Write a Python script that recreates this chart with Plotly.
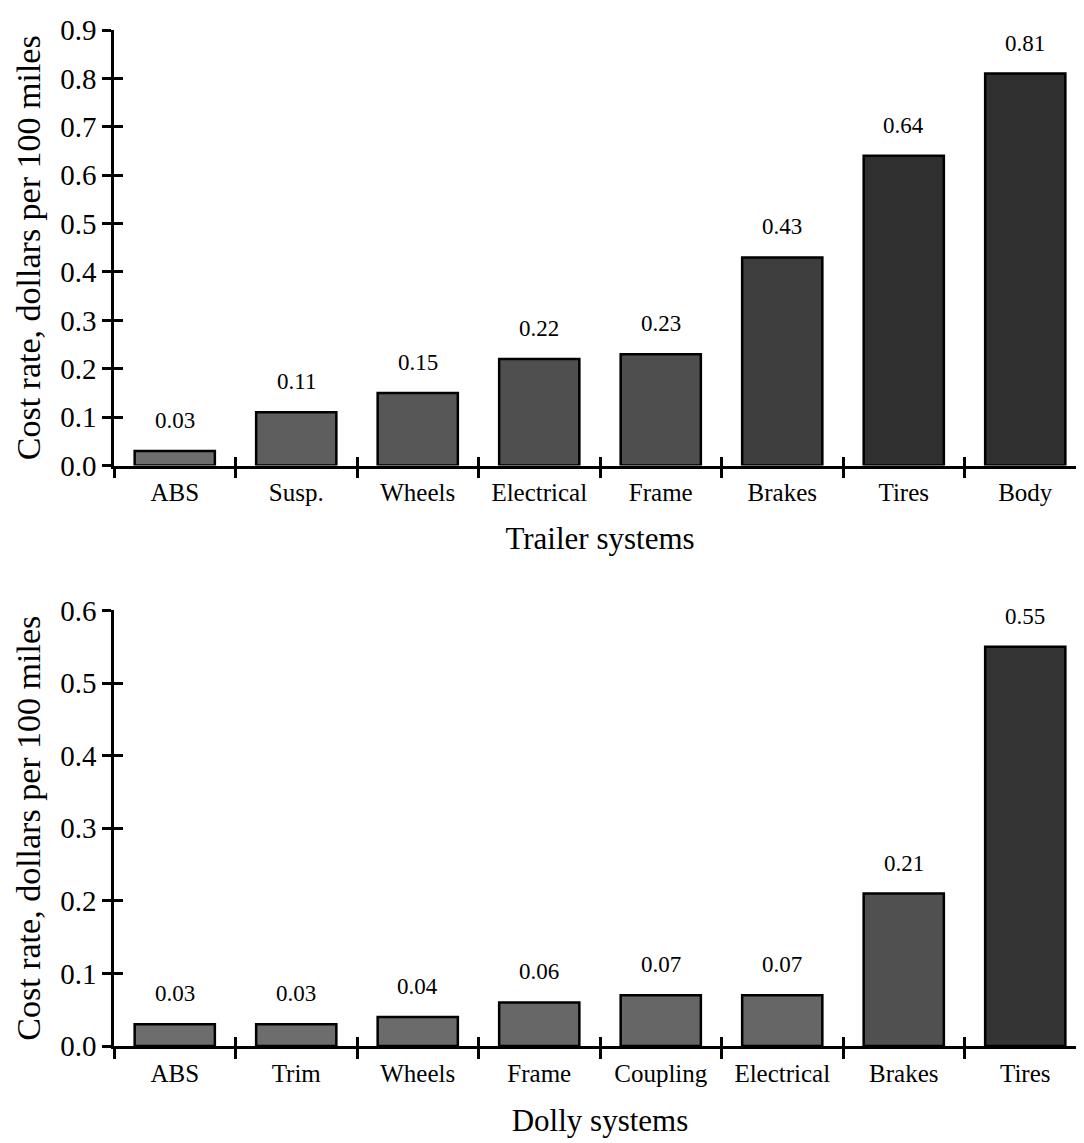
import plotly.graph_objects as go

# cost rate per 100 miles, by system
trailer_systems = ["ABS", "Susp.", "Wheels", "Electrical", "Frame", "Brakes", "Tires", "Body"]
trailer_cost = [0.03, 0.11, 0.15, 0.22, 0.23, 0.43, 0.64, 0.81]

dolly_systems = ["ABS", "Trim", "Wheels", "Frame", "Coupling", "Electrical", "Brakes", "Tires"]
dolly_cost = [0.03, 0.03, 0.04, 0.06, 0.07, 0.07, 0.21, 0.55]

trailer_yticks = [0.0, 0.1, 0.2, 0.3, 0.4, 0.5, 0.6, 0.7, 0.8, 0.9]
dolly_yticks = [0.0, 0.1, 0.2, 0.3, 0.4, 0.5, 0.6]

FONT = "Liberation Serif"
GREYS = [[0, "#727272"], [0.3, "#525252"], [1, "#303030"]]

fig = go.Figure()

fig.add_trace(go.Bar(
    x=trailer_systems, y=trailer_cost, xaxis="x", yaxis="y",
    marker=dict(color=trailer_cost, colorscale=GREYS, cmin=0, cmax=0.6,
                line=dict(color="black", width=2.5)),
    width=0.66, hoverinfo="x+y",
))
fig.add_trace(go.Bar(
    x=dolly_systems, y=dolly_cost, xaxis="x2", yaxis="y2",
    marker=dict(color=dolly_cost, colorscale=GREYS, cmin=0, cmax=0.6,
                line=dict(color="black", width=2.5)),
    width=0.66, hoverinfo="x+y",
))
# empty traces so the overlay axes (inner half of the crossing ticks) get drawn
for xa, ya in [("x", "y3"), ("x3", "y"), ("x2", "y4"), ("x4", "y2")]:
    fig.add_trace(go.Scatter(x=[None], y=[None], xaxis=xa, yaxis=ya,
                             mode="markers", hoverinfo="skip", showlegend=False))

annotations = []
for xr, yr, cats, vals in [("x", "y", trailer_systems, trailer_cost),
                           ("x2", "y2", dolly_systems, dolly_cost)]:
    for c, v in zip(cats, vals):
        annotations.append(dict(
            x=c, y=v, xref=xr, yref=yr, text=f"{v:.2f}", showarrow=False,
            yanchor="bottom", yshift=16, font=dict(family=FONT, size=23, color="black"),
        ))

axis_common = dict(showline=True, linecolor="black", linewidth=2.5, showgrid=False,
                   zeroline=False, tickcolor="black", tickwidth=2.5, mirror=False)

x_common = dict(axis_common, type="category", ticks="outside", ticklen=10, tickson="boundaries",
                ticklabelstandoff=3, range=[-0.5, 7.5],
                tickfont=dict(family=FONT, size=25, color="black"),
                title_font=dict(family=FONT, size=31, color="black"))

y_common = dict(axis_common, ticks="outside", ticklen=9, tickformat=".1f",
                tickfont=dict(family=FONT, size=29, color="black"),
                title_font=dict(family=FONT, size=34, color="black"), title_standoff=10)

boundaries = [i - 0.5 for i in range(len(trailer_systems) + 1)]
inner_x = dict(type="linear", range=[-0.5, 7.5], tickvals=boundaries,
               ticks="inside", ticklen=9, tickcolor="black", tickwidth=2.5,
               showticklabels=False, showline=False, showgrid=False, zeroline=False)
inner_y = dict(ticks="inside", ticklen=9, tickcolor="black", tickwidth=2.5,
               showticklabels=False, showline=False, showgrid=False, zeroline=False)

fig.update_layout(
    width=1084, height=1143,
    margin=dict(l=106, r=6, t=14, b=105),
    paper_bgcolor="white", plot_bgcolor="white",
    showlegend=False,
    font=dict(family=FONT, color="black"),
    xaxis=dict(x_common, anchor="y", domain=[0, 1], title_text="Trailer systems",
               title_standoff=22),
    yaxis=dict(y_common, anchor="x", domain=[0.5713, 1.0], range=[0, 0.9],
               tickvals=trailer_yticks, title_text="Cost rate, dollars per 100 miles"),
    xaxis2=dict(x_common, anchor="y2", domain=[0, 1], title_text="Dolly systems",
                title_standoff=24),
    yaxis2=dict(y_common, anchor="x2", domain=[0.0, 0.4287], range=[0, 0.6],
                tickvals=dolly_yticks, title_text="Cost rate, dollars per 100 miles"),
    xaxis3=dict(inner_x, overlaying="x", anchor="y"),
    yaxis3=dict(inner_y, overlaying="y", anchor="x", range=[0, 0.9], tickvals=trailer_yticks),
    xaxis4=dict(inner_x, overlaying="x2", anchor="y2"),
    yaxis4=dict(inner_y, overlaying="y2", anchor="x2", range=[0, 0.6], tickvals=dolly_yticks),
    annotations=annotations,
)

fig.write_html("out.html")
